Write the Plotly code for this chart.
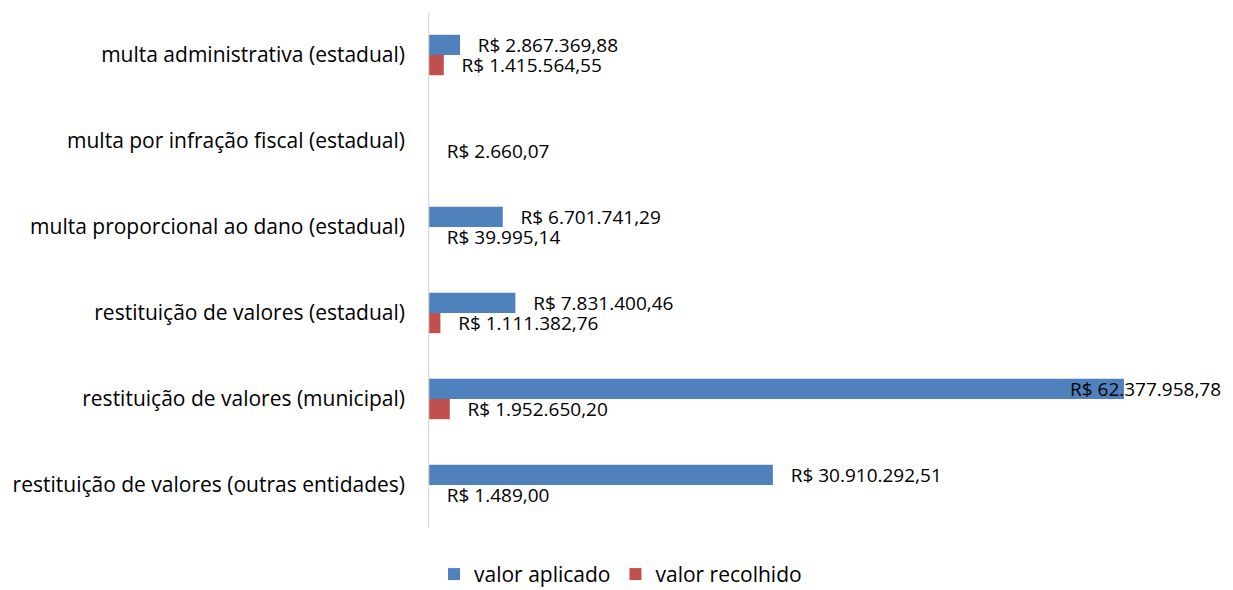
import plotly.graph_objects as go

# categories (top to bottom)
categorias = [
    "multa administrativa (estadual)",
    "multa por infração fiscal (estadual)",
    "multa proporcional ao dano (estadual)",
    "restituição de valores (estadual)",
    "restituição de valores (municipal)",
    "restituição de valores (outras entidades)",
]
valor_aplicado = [2867369.88, None, 6701741.29, 7831400.46, 62377958.78, 30910292.51]
valor_recolhido = [1415564.55, 2660.07, 39995.14, 1111382.76, 1952650.20, 1489.00]

AZUL = "#4F81BD"
VERMELHO = "#C0504D"
FONTE = "'Open Sans', 'Noto Sans', sans-serif"

W, H = 1225, 582
MARGEM = dict(l=420, r=24, t=4, b=62, autoexpand=False)
BARGAP = 0.53
XMAX = 70000000


def brl(v):
    if v is None:
        return ""
    s = f"{v:,.2f}".replace(",", "X").replace(".", ",").replace("X", ".")
    return "R$ " + s


top = max(v for v in valor_aplicado + valor_recolhido if v is not None)

fig = go.Figure()
for i, (nome, vals, cor) in enumerate([
    ("valor aplicado", valor_aplicado, AZUL),
    ("valor recolhido", valor_recolhido, VERMELHO),
]):
    # labels of very long bars are drawn separately (Excel squeezes them in)
    grande = [v is not None and v > 0.8 * top for v in vals]
    fig.add_trace(go.Bar(
        y=categorias,
        x=vals,
        name=nome,
        orientation="h",
        marker=dict(color=cor, line=dict(width=0)),
        text=["" if g else "\u00a0\u00a0\u00a0" + brl(v) for v, g in zip(vals, grande)],
        textposition=["none" if g else "outside" for g in grande],
        constraintext="none",
        textfont=dict(family=FONTE, size=19, color="#000000"),
        cliponaxis=False,
        hoverinfo="skip",
    ))
    # vertical offset of this series' bar inside its category group
    passo = (H - MARGEM["t"] - MARGEM["b"]) / len(categorias)
    desloc = (1 - BARGAP) / 4 * passo * (1 if i == 0 else -1)
    for cat, v, g in zip(categorias, vals, grande):
        if g:
            fig.add_annotation(
                x=v, y=cat, xref="x", yref="y",
                text=brl(v), showarrow=False,
                xanchor="center", xshift=22, yshift=desloc,
                font=dict(family=FONTE, size=19, color="#000000"),
            )

# light axis line at zero, drawn over the bars like the original
fig.add_shape(
    type="line", xref="x", yref="paper",
    x0=0, x1=0, y0=0, y1=1,
    line=dict(color="#D9D9D9", width=2.5),
    layer="above",
)

fig.update_layout(
    width=W,
    height=H,
    barmode="group",
    bargap=BARGAP,
    bargroupgap=0,
    plot_bgcolor="white",
    paper_bgcolor="white",
    font=dict(family=FONTE, size=19, color="#000000"),
    margin=MARGEM,
    legend=dict(
        orientation="h",
        xref="container", yref="paper",
        x=0.5, xanchor="center",
        y=-0.09, yanchor="middle",
        font=dict(family=FONTE, size=21, color="#000000"),
        itemwidth=30,
        traceorder="normal",
    ),
    showlegend=True,
)
fig.update_xaxes(
    range=[0, XMAX],
    showgrid=False,
    zeroline=False,
    showticklabels=False,
    showline=False,
)
fig.update_yaxes(
    autorange="reversed",
    showgrid=False,
    showline=False,
    zeroline=False,
    ticks="",
    ticklabelstandoff=22,
    automargin=False,
    tickfont=dict(family=FONTE, size=21, color="#000000"),
)

fig.write_html("out.html")
